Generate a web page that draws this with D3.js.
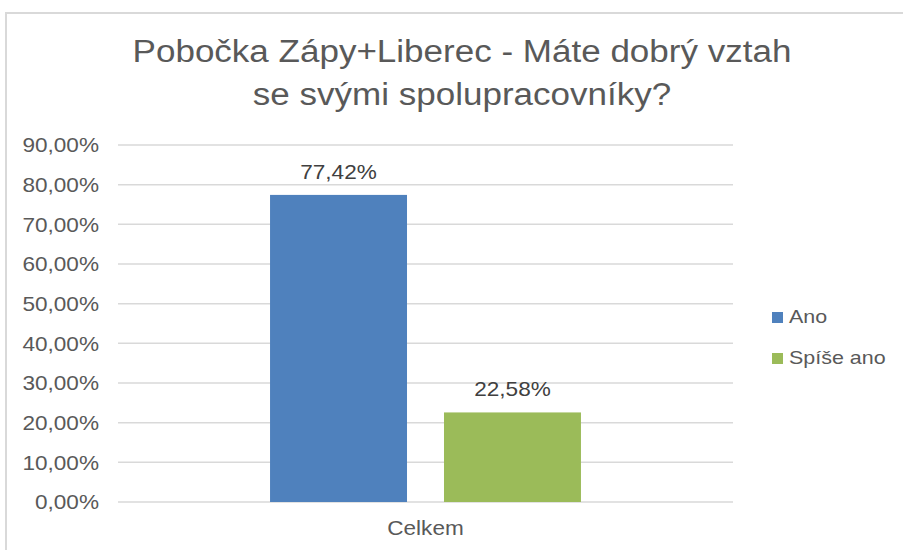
<!DOCTYPE html>
<html>
<head>
<meta charset="utf-8">
<title>Pobočka Zápy+Liberec</title>
<script src="https://d3js.org/d3.v7.min.js"></script>
<style>
  body { margin: 0; background: #fff; }
  text { font-family: "Liberation Sans", Arial, sans-serif; fill: #595959; }
</style>
</head>
<body>
<svg id="chart" width="903" height="550"></svg>
<script>
// data
var titleLines = ["Pobočka Zápy+Liberec - Máte dobrý vztah", "se svými spolupracovníky?"];
var categories = ["Celkem"];
var series = ["Ano", "Spíše ano"];
var values = [77.42, 22.58];
var colors = ["#4f81bd", "#9bbb59"];
var yTicks = [0, 10, 20, 30, 40, 50, 60, 70, 80, 90];

var sx = 1.13; // text in the picture is a bit wider than plain Arial
var fmt = function(v) { return v.toFixed(2).replace(".", ",") + "%"; };

var svg = d3.select("#chart");

// outer frame
svg.append("rect")
  .attr("x", 6).attr("y", 13)
  .attr("width", 920).attr("height", 560)
  .attr("fill", "none")
  .attr("stroke", "#d9d9d9")
  .attr("stroke-width", 2);

var margin = { left: 118, right: 170, top: 145, bottom: 48 };
var W = 903, H = 550;

var y = d3.scaleLinear().domain([0, 90]).range([H - margin.bottom, margin.top]);
var x0 = d3.scaleBand().domain(categories).range([margin.left, W - margin.right]).paddingOuter(0.489);
var x1 = d3.scaleBand().domain(series).range([0, x0.bandwidth()]).paddingInner(0.2126);

// place text at (px,py) and widen it a little about its anchor
function place(sel, px, py) {
  sel.attr("transform", function(d, i) {
    var a = typeof px === "function" ? px(d, i) : px;
    var b = typeof py === "function" ? py(d, i) : py;
    return "translate(" + a + "," + b + ") scale(" + sx + ",1)";
  });
}

// title
svg.selectAll(".title")
  .data(titleLines)
  .enter().append("text")
  .attr("class", "title")
  .attr("text-anchor", "middle")
  .style("font-size", "31px")
  .text(function(d) { return d; })
  .call(place, 462, function(d, i) { return 62 + i * 43; });

// gridlines
svg.append("g")
  .selectAll("line")
  .data(yTicks)
  .enter().append("line")
  .attr("x1", margin.left).attr("x2", W - margin.right)
  .attr("y1", function(d) { return y(d); })
  .attr("y2", function(d) { return y(d); })
  .attr("stroke", "#d9d9d9")
  .attr("stroke-width", 1.5);

// y tick labels
svg.append("g")
  .selectAll("text")
  .data(yTicks)
  .enter().append("text")
  .attr("text-anchor", "end")
  .attr("dy", "0.36em")
  .style("font-size", "20px")
  .text(function(d) { return fmt(d); })
  .call(place, 99, function(d) { return y(d); });

// bars
var bars = series.map(function(s, i) { return { cat: categories[0], key: s, value: values[i], color: colors[i] }; });

svg.append("g")
  .selectAll("rect")
  .data(bars)
  .enter().append("rect")
  .attr("x", function(d) { return x0(d.cat) + x1(d.key); })
  .attr("width", x1.bandwidth())
  .attr("y", function(d) { return y(d.value); })
  .attr("height", function(d) { return y(0) - y(d.value); })
  .attr("fill", function(d) { return d.color; });

// data labels
svg.append("g")
  .selectAll("text")
  .data(bars)
  .enter().append("text")
  .attr("text-anchor", "middle")
  .style("font-size", "20px")
  .style("fill", "#404040")
  .text(function(d) { return fmt(d.value); })
  .call(place,
    function(d) { return x0(d.cat) + x1(d.key) + x1.bandwidth() / 2; },
    function(d) { return y(d.value) - 16; });

// category label
svg.selectAll(".cat")
  .data(categories)
  .enter().append("text")
  .attr("class", "cat")
  .attr("text-anchor", "middle")
  .style("font-size", "20px")
  .text(function(d) { return d; })
  .call(place, function(d) { return x0(d) + x0.bandwidth() / 2; }, 535);

// legend
var leg = svg.append("g")
  .selectAll("g")
  .data(series)
  .enter().append("g")
  .attr("transform", function(d, i) { return "translate(772," + (312 + i * 41) + ")"; });

leg.append("rect")
  .attr("width", 11).attr("height", 11)
  .attr("fill", function(d, i) { return colors[i]; });

leg.append("text")
  .style("font-size", "19px")
  .text(function(d) { return d; })
  .call(place, 17, 11);
</script>
</body>
</html>
